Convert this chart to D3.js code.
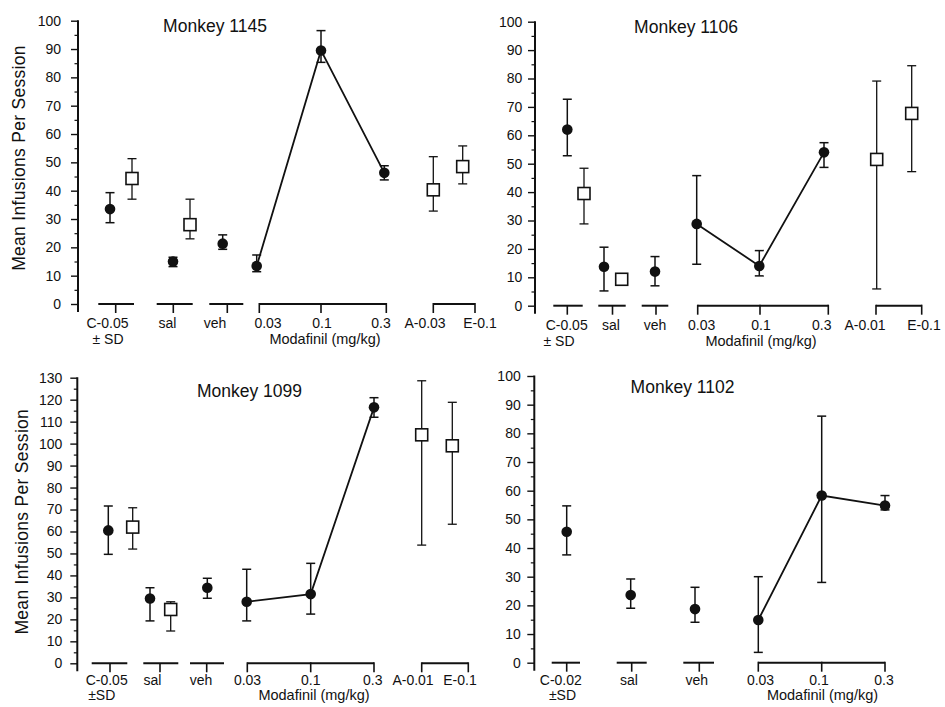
<!DOCTYPE html>
<html><head><meta charset="utf-8">
<script src="https://cdn.jsdelivr.net/npm/d3@7"></script>
<style>
body{margin:0;background:#fff;}
svg{display:block;font-family:"Liberation Sans",Arial,Helvetica,sans-serif;}
</style></head><body>
<svg id="chart" width="945" height="707"></svg>
<script>
// ================= DATA =================
const yAxisTitle = "Mean Infusions Per Session";
const doseAxisTitle = "Modafinil (mg/kg)";
const titles = ["Monkey 1145", "Monkey 1106", "Monkey 1099", "Monkey 1102"];
const yTicks100 = [0, 10, 20, 30, 40, 50, 60, 70, 80, 90, 100];
const yTicks130 = [0, 10, 20, 30, 40, 50, 60, 70, 80, 90, 100, 110, 120, 130];

// category labels per panel: C, sal, veh, 0.03, 0.1, 0.3, A, E
const cats1145 = ["C-0.05", "sal", "veh", "0.03", "0.1", "0.3", "A-0.03", "E-0.1"];
const cats1106 = ["C-0.05", "sal", "veh", "0.03", "0.1", "0.3", "A-0.01", "E-0.1"];
const cats1099 = ["C-0.05", "sal", "veh", "0.03", "0.1", "0.3", "A-0.01", "E-0.1"];
const cats1102 = ["C-0.02", "sal", "veh", "0.03", "0.1", "0.3"];
const sdLabels = ["± SD", "± SD", "±SD", "±SD"];

// filled circles: C, sal, veh, modafinil 0.03, 0.1, 0.3
const circleKeys = ["C", "sal", "veh", "d003", "d01", "d03"];
const dot1145Mean = [33.5, 15.0, 21.3, 13.4, 89.5, 46.3];
const dot1145Lo   = [28.7, 13.2, 19.3, 11.4, 85.3, 43.8];
const dot1145Hi   = [39.3, 16.5, 24.4, 17.3, 96.5, 48.8];
const dot1106Mean = [62.0, 13.7, 12.0, 28.8, 14.0, 54.0];
const dot1106Lo   = [52.8,  5.2,  7.0, 14.6, 10.5, 48.7];
const dot1106Hi   = [72.7, 20.6, 17.3, 45.8, 19.4, 57.4];
const dot1099Mean = [60.5, 29.5, 34.4, 28.0, 31.5, 116.5];
const dot1099Lo   = [49.6, 19.3, 29.6, 19.3, 22.4, 112.0];
const dot1099Hi   = [71.6, 34.4, 38.7, 42.8, 45.5, 120.9];
const dot1102Mean = [45.7, 23.6, 18.7, 14.9, 58.3, 54.8];
const dot1102Lo   = [37.6, 19.0, 14.1,  3.6, 28.0, 53.3];
const dot1102Hi   = [54.7, 29.2, 26.3, 30.0, 86.0, 58.3];

// open squares: C, sal, A, E
const squareKeys = ["C", "sal", "A", "E"];
const sq1145Mean = [44.3, 28.0, 40.3, 48.5];
const sq1145Lo   = [37.0, 23.0, 32.8, 42.4];
const sq1145Hi   = [51.3, 37.0, 52.0, 55.8];
const sq1106Mean = [39.5,  9.3, 51.5, 67.7];
const sq1106Lo   = [28.8,  8.5,  5.9, 47.2];
const sq1106Hi   = [48.4, 10.0, 79.1, 84.5];
const sq1099Mean = [62.0, 24.5, 104.0, 99.0];
const sq1099Lo   = [52.0, 14.7, 53.8, 63.3];
const sq1099Hi   = [70.8, 28.0, 128.6, 118.8];

// ================= LAYOUT (positions in px offsets from each y axis) =================
const panels = [
  { title: titles[0], cats: cats1145, sd: sdLabels[0], yTicks: yTicks100, yMax: 100,
    axisX: 78, y0: 304, yTop: 20.7, pad: 10, ylab: [25, 158], titlePos: [215, 32], lab1: 24, lab2: 40,
    dots: [dot1145Mean, dot1145Lo, dot1145Hi], sqs: [sq1145Mean, sq1145Lo, sq1145Hi],
    dotX: [32, 95, 144.7, 178.7, 243, 306.3], sqX: [54, 112, 355.3, 384.7],
    segs: [[20.3, 56, [37.7], 0], [78.7, 114.7, [95.3], 0], [131.3, 165.3, [149.3], 0],
           [181.3, 308.3, [181.3, 243, 308.3], 1], [355.3, 397, [355.3, 397], 1]],
    labX: [29.5, 89.5, 137, 190, 244, 303, 347, 402], sdX: 30, modX: 247 },
  { title: titles[1], cats: cats1106, sd: sdLabels[1], yTicks: yTicks100, yMax: 100,
    axisX: 535, y0: 305.7, yTop: 21.7, pad: 5.7, ylab: null, titlePos: [686, 33], lab1: 24, lab2: 40,
    dots: [dot1106Mean, dot1106Lo, dot1106Hi], sqs: [sq1106Mean, sq1106Lo, sq1106Hi],
    dotX: [32.3, 69, 120, 161.7, 224.3, 289], sqX: [49, 86.7, 341.7, 376.7],
    segs: [[18.3, 47.7, [32.3], 0], [63.3, 90.7, [77.5], 0], [106.7, 133.3, [121], 0],
           [162.7, 293.3, [162.7, 225, 293.3], 1], [341, 386.7, [341, 386.7], 1]],
    labX: [31.7, 76, 120, 166.7, 226, 286.7, 330, 389], sdX: 24, modX: 226 },
  { title: titles[2], cats: cats1099, sd: sdLabels[2], yTicks: yTicks130, yMax: 130,
    axisX: 77.3, y0: 663.3, yTop: 377.7, pad: 8, ylab: [28.3, 521.7], titlePos: [249.5, 396.7], lab1: 22, lab2: 37,
    dots: [dot1099Mean, dot1099Lo, dot1099Hi], sqs: [sq1099Mean, sq1099Lo, sq1099Hi],
    dotX: [31, 72.7, 130, 169.4, 233.4, 296.7], sqX: [55.4, 93.4, 344.4, 375],
    segs: [[14.4, 50, [32.7], 0], [66, 101, [82.7], 0], [112.7, 146.7, [129.4], 0],
           [170, 296.7, [170, 233.4, 296.7], 1], [344.4, 391, [344.4, 391], 1]],
    labX: [29.4, 75.2, 123.7, 170.2, 233.5, 295.4, 335.7, 382.7], sdX: 24.4, modX: 236.7 },
  { title: titles[3], cats: cats1102, sd: sdLabels[3], yTicks: yTicks100, yMax: 100,
    axisX: 534.3, y0: 662.7, yTop: 376, pad: 6.6, ylab: null, titlePos: [682.5, 393.3], lab1: 22, lab2: 37,
    dots: [dot1102Mean, dot1102Lo, dot1102Hi], sqs: null,
    dotX: [32.4, 96.4, 160.7, 224, 287.4, 350.7], sqX: [],
    segs: [[17.4, 45.7, [32.4], 0], [82.4, 112.4, [97.4], 0], [149, 179.7, [165], 0],
           [224, 350.7, [224, 287.4, 350.7], 1]],
    labX: [26.5, 94.7, 162.4, 226.2, 284.7, 349.7], sdX: 28.2, modX: 288.2 }
];

const svg = d3.select("#chart");
const INK = "#111";

panels.forEach(p => {
  const g = svg.append("g");
  const x = d3.scaleLinear().domain([0, 100]).range([p.axisX, p.axisX + 100]);
  const y = d3.scaleLinear().domain([0, p.yMax]).range([p.y0, p.yTop]);

  // y axis: minor ticks
  const minor = d3.range(5, p.yMax, 10);
  g.append("g").attr("transform", `translate(${p.axisX},0)`)
    .call(d3.axisLeft(y).tickValues(minor).tickSize(3.5).tickFormat(""))
    .call(a => a.select(".domain").remove())
    .selectAll("line").attr("stroke", INK).attr("stroke-width", 1.2);
  // y axis: major ticks
  const ya = g.append("g").attr("transform", `translate(${p.axisX},0)`)
    .call(d3.axisLeft(y).tickValues(p.yTicks).tickSize(7).tickPadding(p.pad).tickFormat(d3.format("d")))
    .call(a => a.select(".domain").remove());
  ya.selectAll("line").attr("stroke", INK).attr("stroke-width", 1.4);
  ya.selectAll("text").attr("font-size", 14).attr("fill", INK)
    .attr("font-family", '"Liberation Sans",Arial,sans-serif');
  g.append("line").attr("x1", p.axisX).attr("x2", p.axisX)
    .attr("y1", y(p.yMax) - 0.5).attr("y2", y(0) + 8)
    .attr("stroke", INK).attr("stroke-width", 2);

  // x segments
  p.segs.forEach(s => {
    g.append("line").attr("x1", x(s[0])).attr("x2", x(s[1]))
      .attr("y1", y(0)).attr("y2", y(0)).attr("stroke", INK).attr("stroke-width", 2);
    s[2].forEach(t => {
      g.append("line").attr("x1", x(t)).attr("x2", x(t))
        .attr("y1", y(0) - (s[3] ? 1 : 0)).attr("y2", y(0) + 9)
        .attr("stroke", INK).attr("stroke-width", 1.6);
    });
  });

  // x labels
  g.selectAll("text.cat").data(p.cats).enter().append("text").attr("class", "cat")
    .attr("x", (d, i) => x(p.labX[i])).attr("y", y(0) + p.lab1)
    .attr("text-anchor", "middle").attr("font-size", 14).attr("fill", INK).text(d => d);
  g.append("text").attr("x", x(p.sdX)).attr("y", y(0) + p.lab2)
    .attr("text-anchor", "middle").attr("font-size", 14).attr("fill", INK).text(p.sd);
  g.append("text").attr("x", x(p.modX)).attr("y", y(0) + p.lab2)
    .attr("text-anchor", "middle").attr("font-size", 14.5).attr("fill", INK).text(doseAxisTitle);

  // title
  g.append("text").attr("x", p.titlePos[0]).attr("y", p.titlePos[1])
    .attr("text-anchor", "middle").attr("font-size", 17.5).attr("fill", INK).text(p.title);

  // y label
  if (p.ylab) {
    g.append("text").attr("transform", `translate(${p.ylab[0]},${p.ylab[1]}) rotate(-90)`)
      .attr("text-anchor", "middle").attr("font-size", 17.5).attr("letter-spacing", 0.3)
      .attr("fill", INK).text(yAxisTitle);
  }

  // data rows
  const dots = circleKeys.map((k, i) => ({ k, xp: p.dotX[i], m: p.dots[0][i], lo: p.dots[1][i], hi: p.dots[2][i] }));
  const sqs = p.sqs ? squareKeys.map((k, i) => ({ k, xp: p.sqX[i], m: p.sqs[0][i], lo: p.sqs[1][i], hi: p.sqs[2][i] })) : [];

  const errBar = (sel, arr, w, sw) => {
    arr.forEach(d => {
      const gg = sel.append("g").attr("stroke", INK).attr("stroke-width", sw);
      gg.append("line").attr("x1", x(d.xp)).attr("x2", x(d.xp)).attr("y1", y(d.lo)).attr("y2", y(d.hi));
      gg.append("line").attr("x1", x(d.xp) - w).attr("x2", x(d.xp) + w).attr("y1", y(d.lo)).attr("y2", y(d.lo));
      gg.append("line").attr("x1", x(d.xp) - w).attr("x2", x(d.xp) + w).attr("y1", y(d.hi)).attr("y2", y(d.hi));
    });
  };
  errBar(g, dots, 4.5, 1.5);
  errBar(g, sqs, 4.5, 1.3);

  // modafinil line
  const dose = dots.slice(3);
  g.append("path").datum(dose)
    .attr("d", d3.line().x(d => x(d.xp)).y(d => y(d.m)))
    .attr("fill", "none").attr("stroke", INK).attr("stroke-width", 1.8);

  g.selectAll("circle.dot").data(dots).enter().append("circle").attr("class", "dot")
    .attr("cx", d => x(d.xp)).attr("cy", d => y(d.m)).attr("r", 5.3).attr("fill", INK);

  g.selectAll("rect.sq").data(sqs).enter().append("rect").attr("class", "sq")
    .attr("x", d => x(d.xp) - 6).attr("y", d => y(d.m) - 6).attr("width", 12).attr("height", 12)
    .attr("fill", "#fff").attr("stroke", INK).attr("stroke-width", 1.6);
});
</script>
</body></html>
